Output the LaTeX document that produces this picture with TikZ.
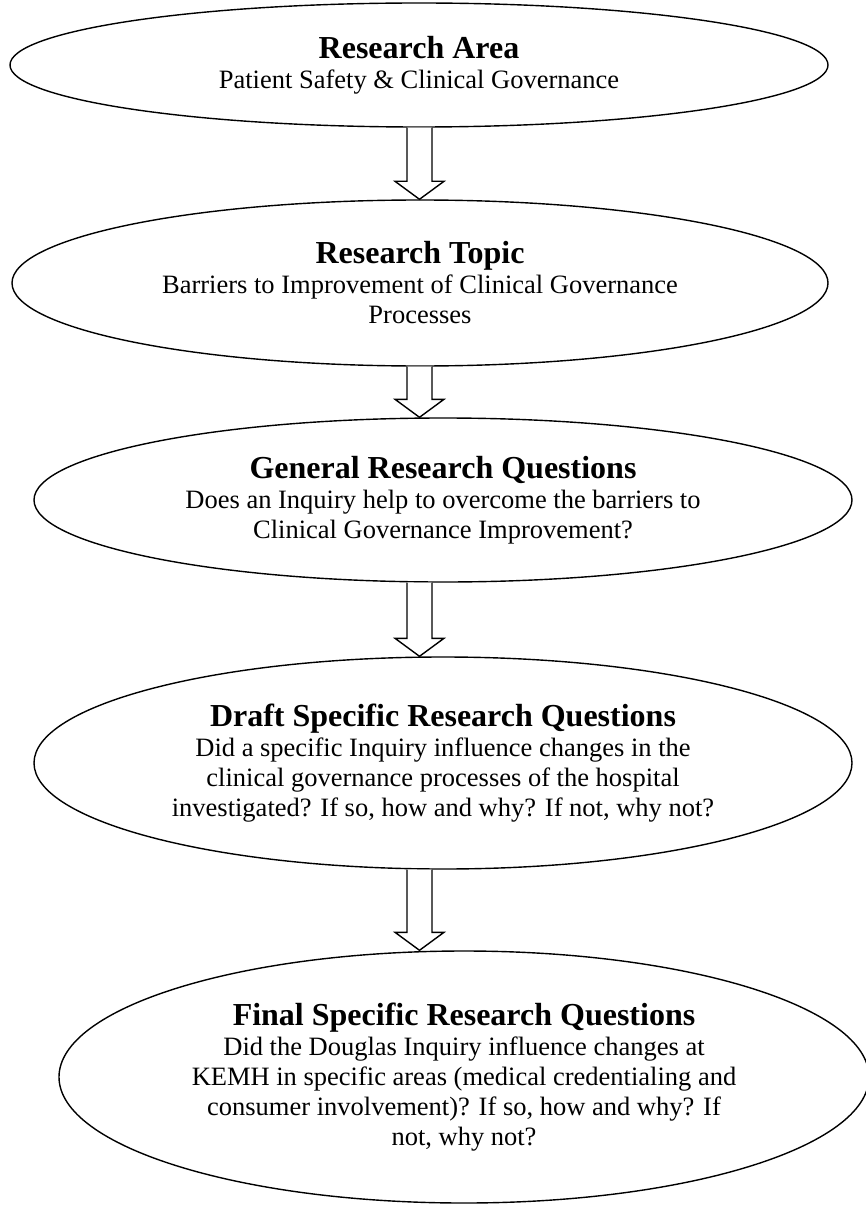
\documentclass[tikz,border=0pt]{standalone}
\usepackage{fontspec}
\setmainfont{Liberation Serif}
\usetikzlibrary{shapes.geometric,calc}

\tikzset{
  stage/.style={draw=black, line width=1.4pt, shape=ellipse, inner sep=0pt,
    align=center, font=\fontsize{26.5}{30}\selectfont},
  blk/.style={draw=black, line width=1.4pt, fill=white, line join=miter},
}
\newcommand{\heading}[1]{{\fontsize{32}{34}\selectfont\bfseries #1}}
% block arrow: shaft from #1 down to the tip at #2
\newcommand{\blockarrow}[2]{%
  \draw[blk] ($(#1)+(-12.5,0)$) -- ($(#2)+(-12.5,-18)$) -- ($(#2)+(-24.5,-18)$)
    -- (#2) -- ($(#2)+(24.5,-18)$) -- ($(#2)+(12.5,-18)$) -- ($(#1)+(12.5,0)$);}

\begin{document}
\begin{tikzpicture}[x=1pt, y=-1pt]
\useasboundingbox (0,0) rectangle (866,1206);

\node[stage, minimum width=818pt, minimum height=124pt] (area) at (419,65)
  {\heading{Research Area}\\ Patient Safety \& Clinical Governance};
\node[stage, minimum width=816pt, minimum height=166pt] (topic) at (420,283)
  {\heading{Research Topic}\\ Barriers to Improvement of Clinical Governance\\ Processes};
\node[stage, minimum width=818pt, minimum height=164pt] (general) at (443,500)
  {\heading{General Research Questions}\\ Does an Inquiry help to overcome the barriers to\\ Clinical Governance Improvement?};
\node[stage, minimum width=818pt, minimum height=212pt] (draft) at (443,763)
  {\heading{Draft Specific Research Questions}\\ Did a specific Inquiry influence changes in the\\ clinical governance processes of the hospital\\ investigated? If so, how and why? If not, why not?};
\node[stage, minimum width=810pt, minimum height=252pt] (final) at (464,1077)
  {\heading{Final Specific Research Questions}\\ Did the Douglas Inquiry influence changes at\\ KEMH in specific areas (medical credentialing and\\ consumer involvement)? If so, how and why? If\\ not, why not?};

% common axis of the block arrows
\coordinate (axis) at (419.5,0);
\coordinate (a1s) at (area.south -| axis);   \coordinate (a1e) at (topic.north -| axis);
\coordinate (a2s) at (topic.south -| axis);  \coordinate (a2e) at (general.north -| axis);
\coordinate (a3s) at (general.south -| axis);\coordinate (a3e) at (draft.north -| axis);
\coordinate (a4s) at (draft.south -| axis);  \coordinate (a4e) at (final.north -| axis);

\blockarrow{a1s}{a1e}
\blockarrow{a2s}{a2e}
\blockarrow{a3s}{a3e}
\blockarrow{a4s}{a4e}
\end{tikzpicture}
\end{document}
